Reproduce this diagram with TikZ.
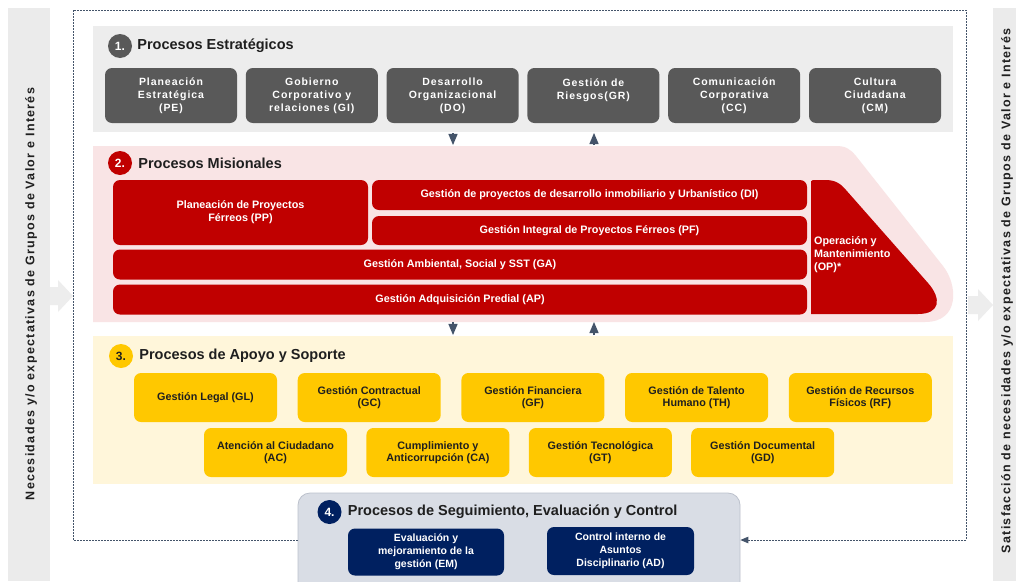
\documentclass[tikz,border=0pt]{standalone}
\usepackage{fontspec}
\setmainfont{Liberation Sans}
\usetikzlibrary{arrows,positioning}
\definecolor{sgray}{HTML}{595959}
\definecolor{pgray}{HTML}{EDEDED}
\definecolor{spink}{HTML}{F9E4E5}
\definecolor{sred}{HTML}{C00000}
\definecolor{scream}{HTML}{FFF6DA}
\definecolor{syellow}{HTML}{FFC800}
\definecolor{snavy}{HTML}{002060}
\definecolor{sfourfill}{HTML}{D9DDE5}
\definecolor{sfourdraw}{HTML}{BCC1CC}
\definecolor{sline}{HTML}{44546A}
\definecolor{sbar}{HTML}{EBEBEB}
\definecolor{stext}{HTML}{1F1F1F}
\begin{document}
\begin{tikzpicture}[x=1pt,y=-1pt,>=triangle 45,font=\bfseries]
        \tikzstyle{num}=[circle,inner sep=0pt,minimum size=24pt,text=white,font=\fontsize{12}{14}\selectfont\bfseries]
        \tikzstyle{head}=[inner sep=0pt,text=stext,font=\fontsize{14.5}{16}\selectfont\bfseries]
        \tikzstyle{estbox}=[rectangle,rounded corners=7pt,fill=sgray,text=white,minimum width=132pt,minimum height=55pt,inner sep=0pt,align=center,font=\fontsize{10.5}{13}\selectfont\bfseries\addfontfeature{LetterSpace=9}]
        \tikzstyle{misbox}=[rectangle,rounded corners=7pt,fill=sred,text=white,inner sep=0pt,align=center,font=\fontsize{10.8}{13}\selectfont\bfseries]
        \tikzstyle{apobox}=[rectangle,rounded corners=7pt,fill=syellow,text=stext,minimum width=143pt,minimum height=49pt,inner sep=0pt,align=center,font=\fontsize{10.8}{12.5}\selectfont\bfseries]
        \tikzstyle{segbox}=[rectangle,rounded corners=7pt,fill=snavy,text=white,inner sep=0pt,align=center,font=\fontsize{10.5}{13}\selectfont\bfseries]
        \tikzstyle{side}=[rotate=90,inner sep=0pt,text=stext,font=\fontsize{12.5}{14}\selectfont\bfseries\addfontfeature{LetterSpace=10.5}]
        \tikzstyle{flow}=[->,draw=sline,line width=1.6pt]
        \tikzstyle{frame}=[draw=sline,dash pattern=on 2pt off 1pt,line width=0.8pt]

        \useasboundingbox[fill=white] (0,0) rectangle (1016,581);

        % side bars
        \fill[sbar] (8,8) rectangle (50,581);
        \fill[sbar] (993,8) rectangle (1016,581);
        \fill[pgray] (50,287) -- (58,287) -- (58,280) -- (73,296) -- (58,312) -- (58,305) -- (50,305) -- cycle;
        \fill[pgray] (968,296) -- (978,296) -- (978,289) -- (993,305) -- (978,321) -- (978,314) -- (968,314) -- cycle;
        \node[side] (need) at (31,294) {Necesidades y/o expectativas de Grupos de Valor e Interés};
        \node[side] (sat) at (1007,291) {Satisfacción de necesidades y/o expectativas de Grupos de Valor e Interés};

        % 1. estrategicos
        \fill[pgray] (93,26) rectangle (953,132);
        \node[num,fill=sgray] (n1) at (120,46) {1.};
        \node[head,right=5pt of n1] (h1) {Procesos Estratégicos};
        \node[estbox] (PE) at (171,95.5) {Planeación\\Estratégica\\(PE)};
        \node[estbox,right=8.4pt of PE] (GI) {Gobierno\\Corporativo y\\relaciones (GI)};
        \node[estbox,right=8.4pt of GI] (DO) {Desarrollo\\Organizacional\\(DO)};
        \node[estbox,right=8.4pt of DO] (GR) {Gestión de\\Riesgos(GR)\\\mbox{}};
        \node[estbox,right=8.4pt of GR] (CC) {Comunicación\\Corporativa\\(CC)};
        \node[estbox,right=8.4pt of CC] (CM) {Cultura\\Ciudadana\\(CM)};

        % 2. misionales
        \fill[spink] (93,146) -- (836,146) .. controls (846,146) and (850,149) .. (856,156)
          -- (943,266) .. controls (958,285) and (960,322) .. (925,322) -- (93,322) -- cycle;
        \node[num,fill=sred] (n2) at (120,163) {2.};
        \node[head,right=6pt of n2] (h2) {Procesos Misionales};
        \node[misbox,minimum width=255pt,minimum height=65pt] (PP) at (240.5,212.5) {Planeación de Proyectos\\Férreos (PP)};
        \node[misbox,minimum width=435pt,minimum height=30pt] (DI) at (589.5,195) {Gestión de proyectos de desarrollo inmobiliario y Urbanístico (DI)};
        \node[misbox,minimum width=435pt,minimum height=29pt] (PF) at (589.5,230.5) {Gestión Integral de Proyectos Férreos (PF)};
        \node[misbox,minimum width=694pt,minimum height=30pt] (GA) at (460,264.5) {Gestión Ambiental, Social y SST (GA)};
        \node[misbox,minimum width=694pt,minimum height=30pt] (AP) at (460,299.5) {Gestión Adquisición Predial (AP)};
        \fill[sred] (811,183) .. controls (811,181) .. (813,180) -- (825,180) .. controls (835,180) and (840,183) .. (846,190)
          -- (928,283) .. controls (942,299) and (940,314) .. (918,314) -- (811,314) -- cycle;
        \node[misbox,anchor=west,align=left] (OP) at (814,255) {Operación y\\Mantenimiento\\(OP)*};

        % 3. apoyo
        \fill[scream] (93,336) rectangle (953,484);
        \node[num,fill=syellow,text=stext] (n3) at (121,356) {3.};
        \node[head,right=6pt of n3] (h3) {Procesos de Apoyo y Soporte};
        \node[apobox] (GL) at (205.5,397.5) {Gestión Legal (GL)};
        \node[apobox,right=20.3pt of GL] (GC) {Gestión Contractual\\(GC)};
        \node[apobox,right=20.3pt of GC] (GF) {Gestión Financiera\\(GF)};
        \node[apobox,right=20.3pt of GF] (TH) {Gestión de Talento\\Humano (TH)};
        \node[apobox,right=20.3pt of TH] (RF) {Gestión de Recursos\\Físicos (RF)};
        \node[apobox] (AC) at (275.5,452.5) {Atención al Ciudadano\\(AC)};
        \node[apobox,right=19pt of AC] (CA) {Cumplimiento y\\Anticorrupción (CA)};
        \node[apobox,right=19pt of CA] (GT) {Gestión Tecnológica\\(GT)};
        \node[apobox,right=19pt of GT] (GD) {Gestión Documental\\(GD)};

        % 4. seguimiento
        \node[rectangle,rounded corners=12pt,fill=sfourfill,draw=sfourdraw,line width=0.8pt,minimum width=442pt,minimum height=107pt] (S4) at (519,546.5) {};
        \node[num,fill=snavy] (n4) at (329.5,512) {4.};
        \node[head,right=6pt of n4] (h4) {Procesos de Seguimiento, Evaluación y Control};
        \node[segbox,minimum width=156pt,minimum height=47pt] (EM) at (426,552) {Evaluación y\\mejoramiento de la\\gestión (EM)};
        \node[segbox,minimum width=147pt,minimum height=48pt] (AD) at (620.5,551) {Control interno de\\Asuntos\\Disciplinario (AD)};

        % flows between groups
        \coordinate (a1) at (453,133); \coordinate (a2) at (453,145);
        \coordinate (a3) at (594,145); \coordinate (a4) at (594,133);
        \coordinate (b1) at (453,322); \coordinate (b2) at (453,335);
        \coordinate (b3) at (594,335); \coordinate (b4) at (594,322);
        \draw[flow] (a1) -- (a2);
        \draw[flow] (a3) -- (a4);
        \draw[flow] (b1) -- (b2);
        \draw[flow] (b3) -- (b4);

        % dashed frame
        \coordinate (fl) at (73,540);
        \coordinate (fr) at (966,540);
        \draw[frame] (S4.west |- fl) -- (fl) -- (73,10) -- (966,10) -- (fr);
        \draw[frame,->] (fr) -- (fr -| S4.east);
\end{tikzpicture}
\end{document}
